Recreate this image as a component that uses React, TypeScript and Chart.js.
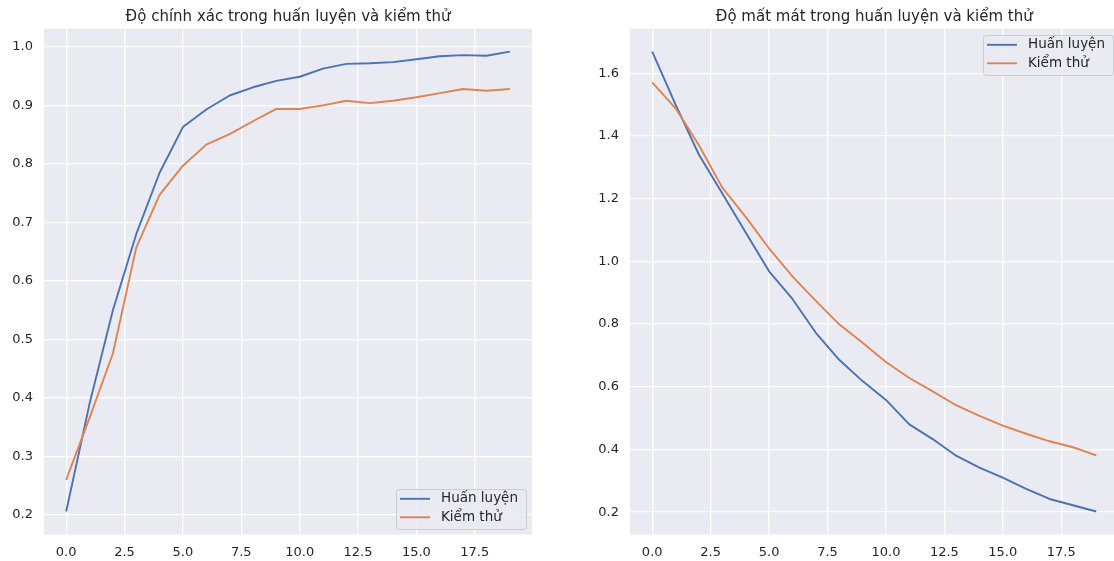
import React, { useEffect, useRef } from 'react';
import { Chart, registerables } from 'chart.js';

Chart.register(...registerables);

// ---------- data ----------
const epochs = [0, 1, 2, 3, 4, 5, 6, 7, 8, 9, 10, 11, 12, 13, 14, 15, 16, 17, 18, 19];
const trainAcc = [0.206, 0.39, 0.55, 0.68, 0.785, 0.863, 0.893, 0.917, 0.931, 0.942, 0.949, 0.963, 0.971, 0.972, 0.974, 0.979, 0.984, 0.986, 0.985, 0.992];
const valAcc = [0.26, 0.366, 0.476, 0.657, 0.747, 0.797, 0.833, 0.851, 0.873, 0.894, 0.894, 0.900, 0.908, 0.904, 0.908, 0.914, 0.921, 0.928, 0.925, 0.928];
const trainLoss = [1.669, 1.50, 1.34, 1.216, 1.092, 0.968, 0.88, 0.772, 0.686, 0.618, 0.558, 0.48, 0.433, 0.38, 0.342, 0.31, 0.274, 0.242, 0.222, 0.202];
const valLoss = [1.571, 1.488, 1.37, 1.235, 1.142, 1.041, 0.952, 0.874, 0.799, 0.74, 0.679, 0.628, 0.585, 0.541, 0.507, 0.476, 0.45, 0.426, 0.407, 0.381];

const epochTicks = [0, 2.5, 5, 7.5, 10, 12.5, 15, 17.5];
const accTicks = [0.2, 0.3, 0.4, 0.5, 0.6, 0.7, 0.8, 0.9, 1.0];
const lossTicks = [0.2, 0.4, 0.6, 0.8, 1.0, 1.2, 1.4, 1.6];

const seriesLabels = ['Huấn luyện', 'Kiểm thử'];
const seriesColors = ['#4C72B0', '#DD8452'];
const accTitle = 'Độ chính xác trong huấn luyện và kiểm thử';
const lossTitle = 'Độ mất mát trong huấn luyện và kiểm thử';

// ---------- helpers ----------
const FONT = '"DejaVu Sans", "Noto Sans", sans-serif';
const TEXT = '#262626';

function paddedRange(arrs: number[][]): [number, number] {
  const all = arrs.flat();
  const lo = Math.min(...all);
  const hi = Math.max(...all);
  const m = (hi - lo) * 0.05;
  return [lo - m, hi + m];
}

const bgPlugin = {
  id: 'axesBg',
  beforeDraw(chart: any) {
    const { ctx, chartArea: a } = chart;
    ctx.save();
    ctx.fillStyle = '#EAEAF2';
    ctx.fillRect(a.left, a.top, a.right - a.left, a.bottom - a.top);
    ctx.restore();
  },
};

const legendPlugin = {
  id: 'mplLegend',
  afterDatasetsDraw(chart: any, _args: any, opts: any) {
    const { ctx, chartArea: a } = chart;
    ctx.save();
    ctx.font = `${opts.fontSize}px ${FONT}`;
    const items = chart.data.datasets.map((d: any) => ({ label: d.label, color: d.borderColor }));
    const textW = Math.max(...items.map((i: any) => ctx.measureText(i.label).width));
    const w = opts.padLeft + opts.handleLen + opts.gap + textW + opts.padRight;
    const h = opts.height;
    const x = Math.round(a.right - opts.inset - w);
    const y = Math.round(opts.corner === 'lower' ? a.bottom - opts.inset - h : a.top + opts.inset);
    ctx.beginPath();
    ctx.roundRect(x + 0.5, y + 0.5, w, h, 3);
    ctx.fillStyle = 'rgba(234,234,242,0.8)';
    ctx.fill();
    ctx.strokeStyle = '#CCCCCC';
    ctx.lineWidth = 1;
    ctx.stroke();
    items.forEach((it: any, k: number) => {
      const cy = y + opts.firstRow + k * opts.rowGap;
      ctx.beginPath();
      ctx.moveTo(x + opts.padLeft, cy);
      ctx.lineTo(x + opts.padLeft + opts.handleLen, cy);
      ctx.strokeStyle = it.color;
      ctx.lineWidth = 1.9;
      ctx.stroke();
      ctx.fillStyle = TEXT;
      ctx.textBaseline = 'middle';
      ctx.textAlign = 'left';
      ctx.fillText(it.label, x + opts.padLeft + opts.handleLen + opts.gap, cy);
    });
    ctx.restore();
  },
};

type PanelProps = {
  left: number;
  width: number;
  title: string;
  train: number[];
  val: number[];
  yTicks: number[];
  yAxisWidth: number;
  padRight: number;
  corner: 'lower' | 'upper';
};

function Panel(p: PanelProps) {
  const ref = useRef<HTMLCanvasElement>(null);
  useEffect(() => {
    const [xMin, xMax] = paddedRange([epochs]);
    const [yMin, yMax] = paddedRange([p.train, p.val]);
    const series = [p.train, p.val];
    const chart = new Chart(ref.current as HTMLCanvasElement, {
      type: 'line',
      data: {
        datasets: series.map((s, k) => ({
          label: seriesLabels[k],
          data: epochs.map((e, i) => ({ x: e, y: s[i] })),
          borderColor: seriesColors[k],
          backgroundColor: seriesColors[k],
          borderWidth: 1.9,
          pointRadius: 0,
          tension: 0,
          borderJoinStyle: 'round',
          order: 1 - k,
        })),
      },
      options: {
        responsive: false,
        animation: false,
        devicePixelRatio: 1,
        layout: { padding: { left: 0, right: p.padRight, top: 0, bottom: 0 } },
        plugins: {
          legend: { display: false },
          tooltip: { enabled: false },
          title: {
            display: true,
            text: p.title,
            fullSize: false,
            color: TEXT,
            font: { family: FONT, size: 15, weight: 'normal', lineHeight: 1.2 },
            padding: { top: 8, bottom: 2.6 },
          },
          mplLegend: {
            corner: p.corner,
            fontSize: 13.5,
            padLeft: 4,
            handleLen: 30,
            gap: 11,
            padRight: 8,
            height: 40,
            inset: 6,
            firstRow: 9.8,
            rowGap: 18.5,
          },
        } as any,
        scales: {
          x: {
            type: 'linear',
            min: xMin,
            max: xMax,
            afterBuildTicks: (s: any) => { s.ticks = epochTicks.map((v) => ({ value: v })); },
            afterFit: (s: any) => { s.height = 26.5; },
            ticks: {
              callback: (v: any) => Number(v).toFixed(1),
              color: TEXT,
              font: { family: FONT, size: 13 },
              padding: 10,
              maxRotation: 0,
              autoSkip: false,
            },
            grid: { color: '#FFFFFF', lineWidth: 1.3, drawTicks: false },
            border: { display: false },
          },
          y: {
            type: 'linear',
            min: yMin,
            max: yMax,
            afterBuildTicks: (s: any) => { s.ticks = p.yTicks.map((v) => ({ value: v })); },
            afterFit: (s: any) => { s.width = p.yAxisWidth; },
            ticks: {
              callback: (v: any) => Number(v).toFixed(1),
              color: TEXT,
              font: { family: FONT, size: 13 },
              padding: 11,
              autoSkip: false,
            },
            grid: { color: '#FFFFFF', lineWidth: 1.3, drawTicks: false },
            border: { display: false },
          },
        },
      } as any,
      plugins: [bgPlugin, legendPlugin],
    });
    return () => chart.destroy();
  }, []);
  return (
    <canvas
      ref={ref}
      width={p.width}
      height={561}
      style={{ position: 'absolute', left: p.left, top: 0, width: p.width, height: 561 }}
    />
  );
}

export default function App() {
  return (
    <div
      style={{
        position: 'absolute',
        left: 0,
        top: 0,
        width: 1114,
        height: 561,
        overflow: 'hidden',
        background: '#FFFFFF',
      }}
    >
      <Panel left={0} width={560} title={accTitle} train={trainAcc} val={valAcc} yTicks={accTicks} yAxisWidth={44} padRight={28} corner="lower" />
      <Panel left={560} width={560} title={lossTitle} train={trainLoss} val={valLoss} yTicks={lossTicks} yAxisWidth={70} padRight={1.5} corner="upper" />
    </div>
  );
}
